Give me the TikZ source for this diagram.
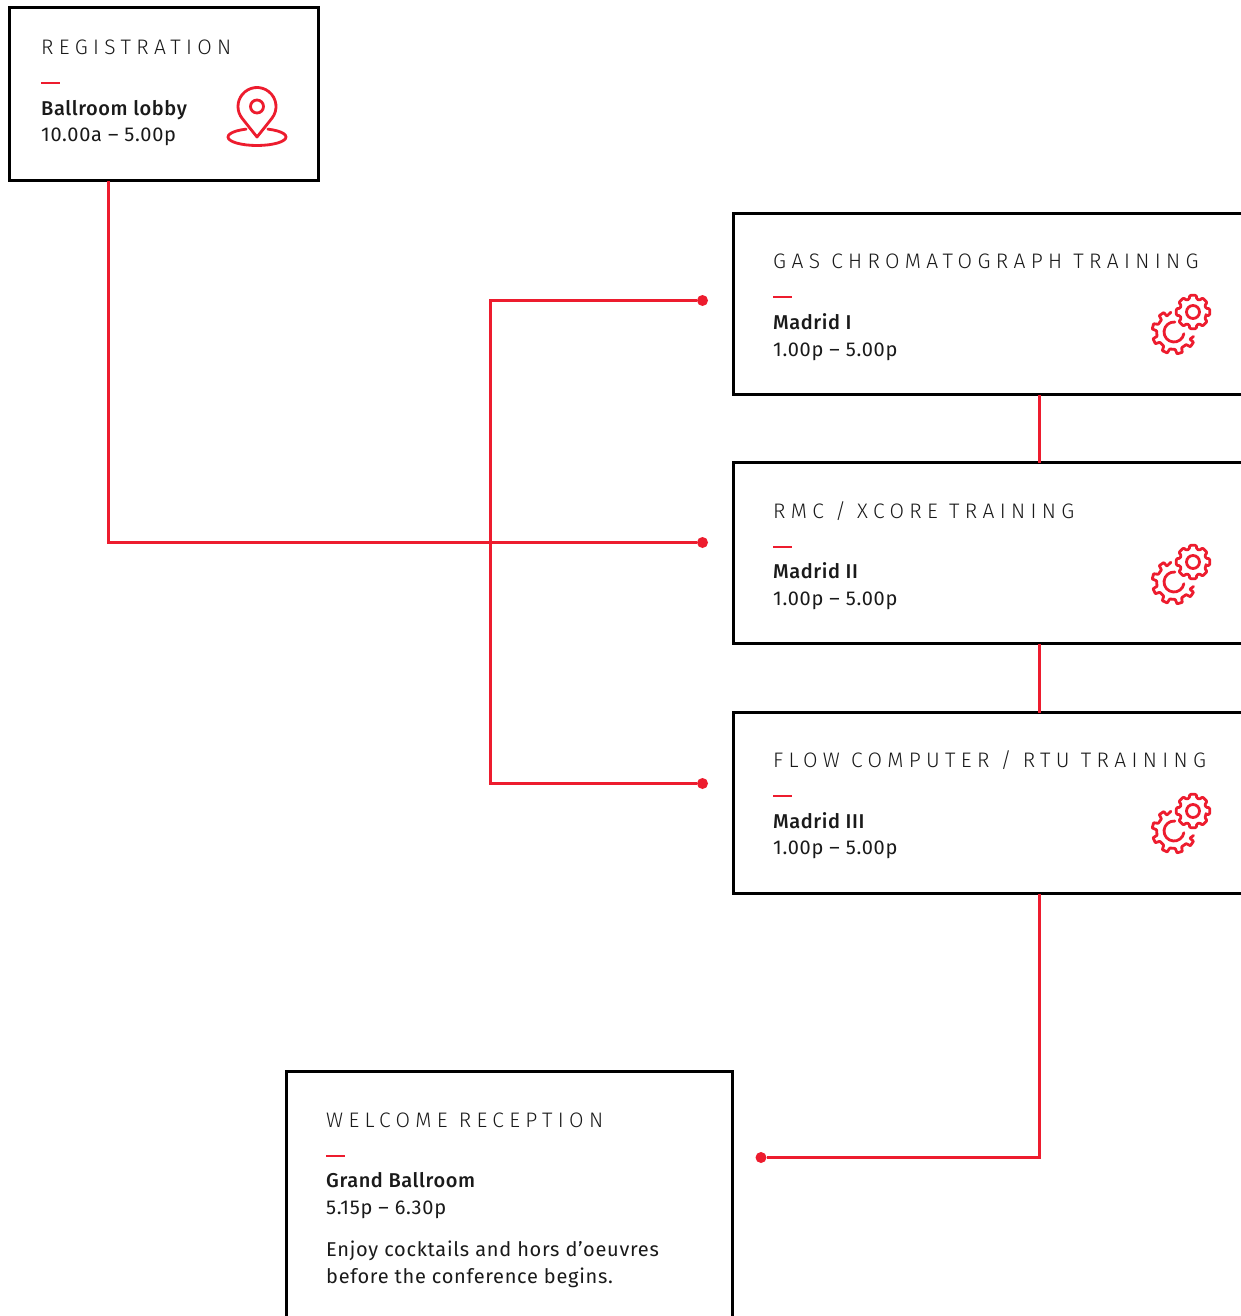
\documentclass[tikz,border=0pt]{standalone}
\usepackage{fontspec}
\setmainfont[LetterSpace=3.5]{Fira Sans}
\newfontfamily\titlefont[LetterSpace=25.5]{Fira Sans Light}
\newfontfamily\placefont[LetterSpace=2.9]{Fira Sans Medium}
\usetikzlibrary{positioning}
\definecolor{linkred}{RGB}{237, 28, 46}
\definecolor{inkcolor}{RGB}{26, 26, 26}

\tikzset{
    pics/gears/.style={code={
        \draw[iconline] (0,0) circle[radius=6.5pt];
        \draw[iconline, rounded corners=1pt] (-16:13.5) \foreach \a in {0,45,...,315} {
            -- (\a-16:13.5) -- (\a-11:17) -- (\a+11:17) -- (\a+16:13.5)
        } -- cycle;
        \begin{scope}[shift={(-19,-20)}]
            \draw[iconline] (85:10pt) arc[start angle=85, delta angle=265, radius=10pt];
            \draw[iconline, rounded corners=0.5pt] (99:20) \foreach \a in {125,165,205,245,285,325} {
                -- (\a-11:17.5) -- (\a-7:22) -- (\a+7:22) -- (\a+11:17.5)
            } -- (347:20);
        \end{scope}
    }},
    pics/mappin/.style={code={
        \draw[iconline] (0,0) -- (14.87,18.67) arc[start angle=-38.5, end angle=218.5, radius=19pt] -- cycle;
        \draw[iconline] (0,30.5) circle[radius=6.5pt];
        \draw[iconline] (68:29pt and 8.5pt) arc[start angle=68, end angle=-248, x radius=29pt, y radius=8.5pt];
    }}
}

\begin{document}
\begin{tikzpicture}[
    x=1pt, y=1pt,
    panel/.style={draw=black, line width=2.7pt, fill=white, inner sep=0pt, outer sep=0pt, anchor=north west},
    boxtitle/.style={inner sep=0pt, anchor=base west, text=inkcolor, font=\titlefont\fontsize{21}{25}\selectfont},
    boxplace/.style={inner sep=0pt, anchor=base west, text=inkcolor, font=\placefont\fontsize{20}{24}\selectfont},
    boxtime/.style={inner sep=0pt, anchor=base west, text=inkcolor, font=\fontsize{20}{24}\selectfont},
    redtick/.style={fill=linkred, inner sep=0pt, minimum width=19pt, minimum height=2pt, anchor=west},
    link/.style={draw=linkred, line width=2.6pt},
    linkdot/.style={circle, fill=linkred, inner sep=0pt, minimum size=11pt},
    iconline/.style={draw=linkred, line width=2.8pt, line join=round, line cap=round}
]
    \clip (0,0) rectangle (1241,-1316);
    \useasboundingbox (0,0) rectangle (1241,-1316);
    \fill[white] (0,0) rectangle (1241,-1316);

    % Connector ends
    \node[linkdot] (gasdot) at (702.5,-300.5) {};
    \node[linkdot] (rmcdot) at (702.5,-542.5) {};
    \node[linkdot] (flowdot) at (702.5,-783.5) {};
    \node[linkdot] (welcomedot) at (761,-1157.5) {};
    \coordinate (regout) at (108.5,-181);
    \coordinate (fork) at (490.5,-542.5);

    % Registration
    \node[panel, minimum width=309pt, minimum height=173pt] (regbox) at (9.5,-7.5) {};
    \node[boxtitle] (regtitle) at (41,-54.5) {REGISTRATION};
    \node[redtick] (regtick) at (41,-83) {};
    \node[boxplace] (regplace) at (41,-115.5) {Ballroom lobby};
    \node[boxtime] (regtime) at (41,-141.5) {10.00a – 5.00p};
    \pic at (257,-137) {mappin};

    % Training boxes
    \node[panel, minimum width=612pt, minimum height=181pt] (gasbox) at (733.5,-213.5) {};
    \node[boxtitle] (gastitle) at (773,-268) {GAS CHROMATOGRAPH TRAINING};
    \node[redtick] (gastick) at (773,-297) {};
    \node[boxplace] (gasplace) at (773,-329) {Madrid I};
    \node[boxtime] (gastime) at (773,-356) {1.00p – 5.00p};
    \pic at (1193,-312) {gears};

    \node[panel, minimum width=612pt, minimum height=181pt] (rmcbox) at (733.5,-462.5) {};
    \node[boxtitle] (rmctitle) at (773,-518) {RMC / XCORE TRAINING};
    \node[redtick] (rmctick) at (773,-547) {};
    \node[boxplace] (rmcplace) at (773,-578) {Madrid II};
    \node[boxtime] (rmctime) at (773,-605) {1.00p – 5.00p};
    \pic at (1193,-562) {gears};

    \node[panel, minimum width=612pt, minimum height=181pt] (flowbox) at (733.5,-712.5) {};
    \node[boxtitle] (flowtitle) at (773,-767) {FLOW COMPUTER / RTU TRAINING};
    \node[redtick] (flowtick) at (773,-796) {};
    \node[boxplace] (flowplace) at (773,-828) {Madrid III};
    \node[boxtime] (flowtime) at (773,-854) {1.00p – 5.00p};
    \pic at (1193,-811) {gears};

    % Welcome reception
    \node[panel, minimum width=446pt, minimum height=290pt] (welcomebox) at (286.5,-1071.5) {};
    \node[boxtitle] (welcometitle) at (326,-1127) {WELCOME RECEPTION};
    \node[redtick] (welcometick) at (326,-1156) {};
    \node[boxplace] (welcomeplace) at (326,-1187) {Grand Ballroom};
    \node[boxtime] (welcometime) at (326,-1214) {5.15p – 6.30p};
    \node[boxtime] (welcomenote) at (326,-1256) {Enjoy cocktails and hors d’oeuvres};
    \node[boxtime] (welcomenotetwo) at (326,-1283) {before the conference begins.};

    % Connectors
    \draw[link] (regout) |- (rmcdot);
    \draw[link] (gasdot) -| (fork) |- (flowdot);
    \draw[link] (gasbox.south) -- (rmcbox.north);
    \draw[link] (rmcbox.south) -- (flowbox.north);
    \draw[link] (flowbox.south) |- (welcomedot);
\end{tikzpicture}
\end{document}
